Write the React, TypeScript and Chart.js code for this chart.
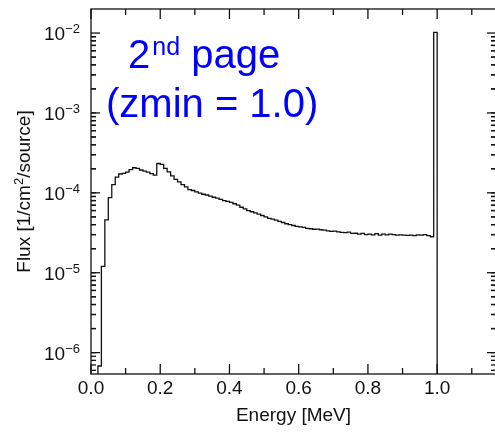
import { useEffect, useRef } from "react";
import { Chart, registerables } from "chart.js";

Chart.register(...registerables);

// Histogram bin width in MeV; bins start at 0.00
const BIN_WIDTH = 0.01;

// Flux per bin [1/cm^2/source], bins 0.00-0.01 ... 1.16-1.17 (0 = empty bin)
const fluxLowEnergy = [
  0, 0, 0, 6.8e-7, 1.2e-5, 4.6e-5, 8.7e-5, 1.27e-4, 1.57e-4, 1.72e-4,
  1.75e-4, 1.82e-4, 1.95e-4, 2.06e-4, 2.02e-4, 1.93e-4, 1.87e-4, 1.82e-4, 1.74e-4, 1.67e-4,
];
const fluxMidEnergy = [
  2.33e-4, 2.27e-4, 2.02e-4, 1.83e-4, 1.63e-4, 1.47e-4, 1.37e-4, 1.27e-4, 1.19e-4, 1.1e-4,
  1.07e-4, 1.03e-4, 9.9e-5, 9.6e-5, 9.4e-5, 9.1e-5, 8.8e-5, 8.6e-5, 8.3e-5, 8.0e-5,
];
const fluxHighEnergy = [
  7.8e-5, 7.6e-5, 7.3e-5, 7.0e-5, 6.6e-5, 6.3e-5, 6.0e-5, 5.8e-5, 5.6e-5, 5.4e-5,
  5.2e-5, 5.0e-5, 4.8e-5, 4.7e-5, 4.55e-5, 4.4e-5, 4.25e-5, 4.1e-5, 4.0e-5, 3.9e-5,
  3.8e-5, 3.75e-5, 3.7e-5, 3.6e-5, 3.55e-5, 3.5e-5, 3.52e-5, 3.45e-5, 3.42e-5, 3.35e-5,
  3.3e-5, 3.32e-5, 3.25e-5, 3.2e-5, 3.18e-5, 3.22e-5, 3.1e-5, 3.12e-5, 3.05e-5, 3.1e-5,
  3.0e-5, 3.05e-5, 2.98e-5, 3.08e-5, 2.95e-5, 3.04e-5, 2.97e-5, 3.05e-5, 3.0e-5, 2.96e-5,
  2.98e-5, 2.95e-5, 2.93e-5, 2.96e-5, 2.92e-5, 2.98e-5, 2.95e-5, 3.0e-5, 2.92e-5, 2.82e-5,
];
const fluxPeak = [1.02e-2];
const fluxAbovePeak = [0, 0, 0, 0, 0, 0, 0, 0, 0, 0, 0, 0, 0, 0, 0, 0];

const fluxValues = [
  ...fluxLowEnergy,
  ...fluxMidEnergy,
  ...fluxHighEnergy,
  ...fluxPeak,
  ...fluxAbovePeak,
];

// Axis ranges
const X_MIN = 0;
const X_MAX = 1.17;
const Y_MIN = 5.4e-7;
const Y_MAX = 2.0e-2;

// Tick marks and labels
const xTickValues = [0, 0.1, 0.2, 0.3, 0.4, 0.5, 0.6, 0.7, 0.8, 0.9, 1.0, 1.1];
const xTickLabels = ["0.0", "", "0.2", "", "0.4", "", "0.6", "", "0.8", "", "1.0", ""];
const yDecades = [-6, -5, -4, -3, -2];
const yMinorMultipliers = [2, 3, 4, 5, 6, 7, 8, 9];

const xAxisTitle = "Energy [MeV]";
const yAxisTitleParts = ["Flux [1/cm", "2", "/source]"];
const noteLine1 = ["2", "nd", " page"];
const noteLine2 = "(zmin = 1.0)";

const FONT = '"Liberation Sans", Arial, Helvetica, sans-serif';
const INK = "#111";
const NOTE_COLOR = "#0000ff";
// Empty bins are sent below the axis floor so the outline drops out of the frame
const EMPTY_BIN = 1e-12;

const framePlugin = {
  id: "frameAndLabels",
  afterDraw(chart: any) {
    const { ctx, chartArea, scales } = chart;
    const { left, top, right, bottom } = chartArea;
    const xs = scales.x;
    const ys = scales.y;
    ctx.save();
    ctx.strokeStyle = INK;
    ctx.lineWidth = 1.3;
    ctx.strokeRect(left, top, right - left, bottom - top);

    const seg = (x1: number, y1: number, x2: number, y2: number) => {
      ctx.beginPath();
      ctx.moveTo(x1, y1);
      ctx.lineTo(x2, y2);
      ctx.stroke();
    };

    // x ticks, inward on bottom and top
    ctx.fillStyle = INK;
    ctx.font = `19px ${FONT}`;
    ctx.textAlign = "center";
    ctx.textBaseline = "alphabetic";
    xTickValues.forEach((v, i) => {
      const px = xs.getPixelForValue(v);
      const len = xTickLabels[i] ? 10 : 6;
      seg(px, bottom, px, bottom - len);
      seg(px, top, px, top + len);
      if (xTickLabels[i]) ctx.fillText(xTickLabels[i], px, bottom + 20);
    });

    // y ticks, inward on left and right
    yDecades.forEach((d) => {
      const base = Math.pow(10, d);
      const py = ys.getPixelForValue(base);
      if (py >= top - 0.5 && py <= bottom + 0.5) {
        seg(left, py, left + 9, py);
        seg(right, py, right - 9, py);
        const sup = "\u2212" + Math.abs(d);
        ctx.font = `19px ${FONT}`;
        const wMain = ctx.measureText("10").width;
        ctx.font = `13px ${FONT}`;
        const wSup = ctx.measureText(sup).width;
        const x0 = left - 11 - wMain - wSup;
        ctx.textAlign = "left";
        ctx.font = `19px ${FONT}`;
        ctx.fillText("10", x0, py + 7);
        ctx.font = `13px ${FONT}`;
        ctx.fillText(sup, x0 + wMain, py);
      }
      const sub = [1, ...yMinorMultipliers].map((m) => m * Math.pow(10, d - 1));
      sub.concat(yMinorMultipliers.map((m) => m * base)).forEach((val) => {
        if (val <= Y_MIN || val >= Y_MAX) return;
        const p = ys.getPixelForValue(val);
        seg(left, p, left + 5, p);
        seg(right, p, right - 5, p);
      });
    });

    // axis titles
    ctx.textAlign = "center";
    ctx.font = `19px ${FONT}`;
    ctx.fillText(xAxisTitle, (left + right) / 2, bottom + 47);

    ctx.save();
    ctx.translate(30, (top + bottom) / 2);
    ctx.rotate(-Math.PI / 2);
    ctx.textAlign = "left";
    ctx.font = `19px ${FONT}`;
    const w0 = ctx.measureText(yAxisTitleParts[0]).width;
    const w2 = ctx.measureText(yAxisTitleParts[2]).width;
    ctx.font = `13px ${FONT}`;
    const w1 = ctx.measureText(yAxisTitleParts[1]).width;
    let cx = -(w0 + w1 + w2) / 2;
    ctx.font = `19px ${FONT}`;
    ctx.fillText(yAxisTitleParts[0], cx, 0);
    cx += w0;
    ctx.font = `13px ${FONT}`;
    ctx.fillText(yAxisTitleParts[1], cx, -7);
    cx += w1;
    ctx.font = `19px ${FONT}`;
    ctx.fillText(yAxisTitleParts[2], cx, 0);
    ctx.restore();

    // blue note
    ctx.fillStyle = NOTE_COLOR;
    ctx.textAlign = "left";
    let nx = 128;
    ctx.font = `40px ${FONT}`;
    ctx.fillText(noteLine1[0], nx, 68);
    nx += ctx.measureText(noteLine1[0]).width;
    ctx.font = `25px ${FONT}`;
    ctx.fillText(noteLine1[1], nx + 2, 55);
    nx += ctx.measureText(noteLine1[1]).width + 2;
    ctx.font = `40px ${FONT}`;
    ctx.fillText(noteLine1[2], nx, 68);
    ctx.fillText(noteLine2, 106, 117);

    ctx.restore();
  },
};

export default function App() {
  const canvasRef = useRef<HTMLCanvasElement | null>(null);

  useEffect(() => {
    if (!canvasRef.current) return;
    const points = fluxValues.map((v, i) => ({
      x: i * BIN_WIDTH,
      y: v > 0 ? v : EMPTY_BIN,
    }));
    points.push({ x: fluxValues.length * BIN_WIDTH, y: EMPTY_BIN });

    const chart = new Chart(canvasRef.current, {
      type: "line",
      data: {
        datasets: [
          {
            data: points,
            stepped: "after",
            borderColor: INK,
            borderWidth: 1.3,
            pointRadius: 0,
            fill: false,
          },
        ],
      },
      options: {
        responsive: false,
        animation: false,
        layout: { padding: { left: 91, top: 9, right: 6, bottom: 58 } },
        plugins: {
          legend: { display: false },
          title: { display: false },
          tooltip: { enabled: false },
        },
        scales: {
          x: { type: "linear", min: X_MIN, max: X_MAX, display: false },
          y: { type: "logarithmic", min: Y_MIN, max: Y_MAX, display: false },
        },
      },
      plugins: [framePlugin],
    });
    return () => chart.destroy();
  }, []);

  return (
    <div
      style={{
        position: "fixed",
        left: 0,
        top: 0,
        width: 495,
        height: 432,
        overflow: "hidden",
        background: "#fff",
      }}
    >
      <canvas ref={canvasRef} width={502} height={432} style={{ display: "block" }} />
    </div>
  );
}
